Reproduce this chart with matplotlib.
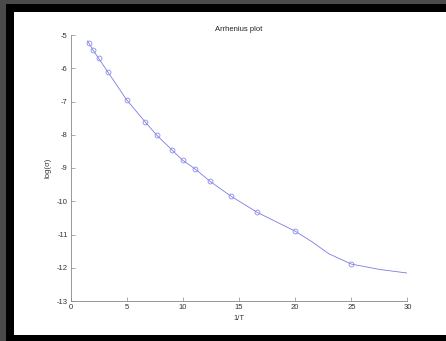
import matplotlib
matplotlib.use("Agg")
import matplotlib.pyplot as plt
from matplotlib.patches import Rectangle

plt.rcParams['font.family'] = ['Liberation Sans', 'DejaVu Sans']
plt.rcParams['axes.unicode_minus'] = False

# measured points (circles)
inv_T = [1.65, 2.0, 2.5, 3.3, 5.0, 6.66, 7.67, 9.07, 10.0, 11.1, 12.42, 14.25, 16.6, 20.0, 25.0]
log_sigma = [-5.25, -5.45, -5.70, -6.10, -6.95, -7.62, -8.01, -8.47, -8.77, -9.03, -9.40, -9.84, -10.33, -10.90, -11.89]

# fitted curve
fit_x = [1.5, 1.65, 2.0, 2.5, 3.3, 5.0, 6.66, 7.67, 9.07, 10.0, 11.1, 12.42, 14.25, 16.6, 20.0, 21.5, 23.0, 25.0, 27.5, 30.0]
fit_y = [-5.18, -5.25, -5.45, -5.70, -6.10, -6.95, -7.62, -8.01, -8.47, -8.77, -9.03, -9.40, -9.84, -10.33, -10.90, -11.22, -11.58, -11.89, -12.05, -12.16]

fig = plt.figure(figsize=(4.46, 3.41), dpi=100)
fig.patch.set_facecolor('#4a4a4a')
W, H = 446.0, 341.0
fig.patches.append(Rectangle((6 / W, 0), 1 - 6 / W, (H - 4) / H, transform=fig.transFigure,
                             facecolor='black', edgecolor='none', zorder=-2))
fig.patches.append(Rectangle((14 / W, 6 / H), 1 - 14 / W, (H - 18) / H, transform=fig.transFigure,
                             facecolor='white', edgecolor='none', zorder=-1))

ax = fig.add_axes([70.5 / W, 40 / H, 337 / W, 266 / H])
ax.set_facecolor('none')
ax.plot(fit_x, fit_y, '-', color='#7b7be8', lw=0.6)
ax.plot(inv_T, log_sigma, 'o', mfc='none', mec='#8c8ce4', ms=3.5, mew=0.6)

ax.set_xlim(0, 30)
ax.set_ylim(-13, -5)
ax.set_xticks([0, 5, 10, 15, 20, 25, 30])
ax.set_yticks(range(-13, -4))
for s in ['top', 'right']:
    ax.spines[s].set_visible(False)
for s in ['left', 'bottom']:
    ax.spines[s].set_color('#888888')
    ax.spines[s].set_linewidth(0.6)
ax.tick_params(direction='in', length=3, width=0.5, color='#888888', labelsize=5.5,
               labelcolor='#333333', pad=2)

ax.set_title('Arrhenius plot', fontsize=5.5, color='#222222', pad=3)
ax.set_xlabel('1/T', fontsize=5.5, color='#333333', labelpad=3)
ax.set_ylabel('log(σ)', fontsize=5.5, color='#333333', labelpad=4)

fig.savefig('out.png', dpi=100, facecolor=fig.get_facecolor())
